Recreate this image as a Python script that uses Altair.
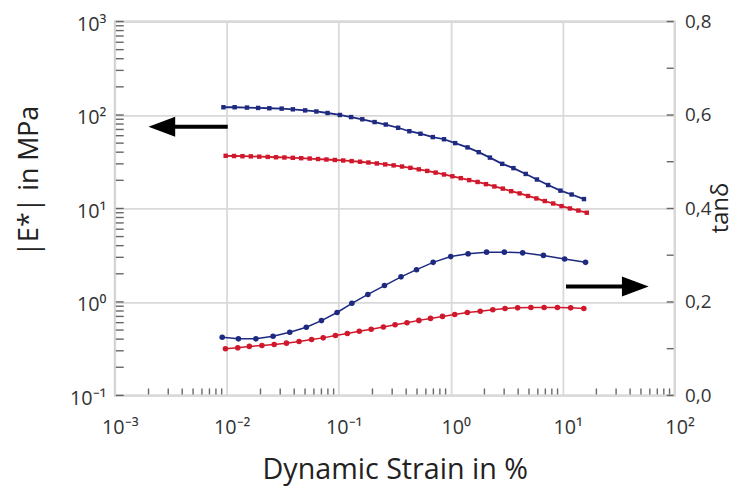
import altair as alt
import pandas as pd

# ---------------- data ----------------
# |E*| (left axis, MPa) - blue series
e_blue_x = [0.00933, 0.01175, 0.01514, 0.01905, 0.02399, 0.0309, 0.0389, 0.0501, 0.0631, 0.0794,
            0.1023, 0.1288, 0.1622, 0.2089, 0.263, 0.339, 0.427, 0.537, 0.692, 0.871,
            1.096, 1.413, 1.778, 2.239, 2.884, 3.631, 4.677, 5.888, 7.413, 9.55, 12.02, 15.49]
e_blue_y = [121, 121, 120, 119, 118, 117, 115, 112, 109, 105,
            100, 95, 90, 84, 79, 73, 67, 63, 58, 55,
            50, 45, 40, 35, 30, 27, 23.4, 20.4, 17.8, 15.5, 14.1, 12.6]

# |E*| - red series
e_red_x = [0.00977, 0.01161, 0.0138, 0.0164, 0.0195, 0.0232, 0.0275, 0.0327, 0.0389, 0.0462,
           0.0550, 0.0653, 0.0776, 0.0923, 0.1096, 0.1303, 0.1549, 0.1841, 0.2188, 0.2600,
           0.3090, 0.3673, 0.4365, 0.5188, 0.6166, 0.7328, 0.8710, 1.035, 1.230, 1.462,
           1.738, 2.065, 2.455, 2.917, 3.467, 4.121, 4.898, 5.821, 6.918, 8.222,
           9.772, 11.61, 13.80, 16.41]
e_red_y = [36.6, 36.4, 36.2, 36.1, 35.8, 35.6, 35.3, 35.1, 34.8, 34.5,
           34.2, 33.8, 33.4, 33.0, 32.6, 32.1, 31.6, 31.0, 30.3, 29.6,
           28.9, 28.1, 27.2, 26.2, 25.2, 24.2, 23.1, 22.1, 21.1, 20.1,
           19.2, 18.2, 17.2, 16.3, 15.3, 14.5, 13.6, 12.8, 12.0, 11.3,
           10.6, 10.0, 9.5, 9.0]

# tan delta (right axis) - blue series
tan_blue_x = [0.0091, 0.0127, 0.0182, 0.0259, 0.0365, 0.0513, 0.0701, 0.0966, 0.131, 0.182,
              0.256, 0.360, 0.495, 0.697, 1.0, 1.43, 2.09, 3.01, 4.39, 6.73, 10.4, 16.0]
tan_blue_y = [0.1245, 0.121, 0.121, 0.1266, 0.135, 0.1457, 0.160, 0.1774, 0.197, 0.216,
              0.235, 0.2536, 0.269, 0.2847, 0.297, 0.303, 0.3065, 0.3065, 0.305, 0.2995,
              0.292, 0.2847]

# tan delta - red series
tan_red_x = [0.00973, 0.01253, 0.01589, 0.0206, 0.0265, 0.0341, 0.0442, 0.0572, 0.0726, 0.0934,
             0.1193, 0.1525, 0.1948, 0.2506, 0.3184, 0.4068, 0.5196, 0.6600, 0.8440, 1.086,
             1.407, 1.834, 2.375, 3.055, 3.959, 5.200, 6.823, 8.971, 11.78, 15.45]
tan_red_y = [0.0998, 0.1019, 0.1048, 0.1069, 0.1090, 0.1118, 0.1153, 0.1196, 0.1231, 0.1280,
             0.1323, 0.1372, 0.1414, 0.1464, 0.1513, 0.1556, 0.1605, 0.1647, 0.1690, 0.1732,
             0.1774, 0.1802, 0.1831, 0.1859, 0.1873, 0.1880, 0.1880, 0.1880, 0.1873, 0.1859]

# axis ticks / labels
x_ticks = [0.001, 0.01, 0.1, 1, 10, 100]
x_labels = ["10⁻³", "10⁻²", "10⁻¹", "10⁰", "10¹", "10²"]
e_ticks = [0.1, 1, 10, 100, 1000]
e_labels = ["10⁻¹", "10⁰", "10¹", "10²", "10³"]
tan_ticks = [0.0, 0.2, 0.4, 0.6, 0.8]
tan_labels = ["0,0", "0,2", "0,4", "0,6", "0,8"]
tan_minor = [0.1, 0.3, 0.5, 0.7]
minor_mult = [2, 3, 4, 5, 6, 7, 8, 9]
x_decades = [0.001, 0.01, 0.1, 1, 10]
e_decades = [0.1, 1, 10, 100]

# arrows (data units)
arrow_left_x = [0.0102, 0.0032]
arrow_left_y = [75, 75]
arrow_left_head = [0.00263]
arrow_right_x = [10.7, 38.0]
arrow_right_y = [0.233, 0.233]
arrow_right_head = [44.5]

BLUE = "#1d2a80"
RED = "#d0182c"
FONT = "Open Sans"
W, H = 566, 378


def lab_expr(vals, labs):
    expr = "''"
    for v, l in reversed(list(zip(vals, labs))):
        expr = f"abs(datum.value - {v}) < {abs(v) * 1e-6 + 1e-9} ? '{l}' : {expr}"
    return expr


X = alt.X(
    "x:Q",
    scale=alt.Scale(type="log", domain=[0.001, 100]),
    axis=alt.Axis(
        values=x_ticks, labelExpr=lab_expr(x_ticks, x_labels), title="Dynamic Strain in %",
        grid=True, gridColor="#d9d9d9", gridWidth=1.8, ticks=False, tickSize=0, domain=False,
        labelFont=FONT, labelFontSize=20, labelColor="#333", labelPadding=23, labelBaseline="top",
        labelOffset=5, labelFlush=False,
        titleFont=FONT, titleFontSize=29, titleFontWeight="normal", titleColor="#222",
        titleBaseline="alphabetic", titleY=84,
    ),
)
Y_E = alt.Y(
    "y:Q",
    scale=alt.Scale(type="log", domain=[0.1, 1000]),
    axis=alt.Axis(
        orient="left", values=e_ticks, labelExpr=lab_expr(e_ticks, e_labels), title="|E*| in MPa",
        grid=True, gridColor="#d9d9d9", gridWidth=1.8, ticks=False, tickSize=0, domain=False,
        labelFont=FONT, labelFontSize=20, labelColor="#333", labelPadding=9, labelOffset=3,
        labelFlush=False,
        titleFont=FONT, titleFontSize=27, titleFontWeight="normal", titleColor="#222",
        titleX=-86, titleY=161, titleAngle=-90, titleAlign="center", titleBaseline="middle",
    ),
)
Y_T = alt.Y(
    "t:Q",
    scale=alt.Scale(type="linear", domain=[0, 0.8]),
    axis=alt.Axis(
        orient="right", values=tan_ticks, labelExpr=lab_expr(tan_ticks, tan_labels), title="tanδ",
        grid=False, ticks=False, tickSize=0, domain=False,
        labelFont=FONT, labelFontSize=19, labelColor="#333", labelPadding=10, labelFlush=False,
        titleFont=FONT, titleFontSize=24, titleFontWeight="normal", titleColor="#222",
        titleX=53, titleY=188, titleAngle=-90, titleAlign="center", titleBaseline="alphabetic",
    ),
)

df_eb = pd.DataFrame({"x": e_blue_x, "y": e_blue_y})
df_er = pd.DataFrame({"x": e_red_x, "y": e_red_y})
df_tb = pd.DataFrame({"x": tan_blue_x, "t": tan_blue_y})
df_tr = pd.DataFrame({"x": tan_red_x, "t": tan_red_y})

e_minor = [m * d for d in e_decades for m in minor_mult] + e_ticks
x_minor = [m * d for d in x_decades for m in minor_mult]
df_left_ticks = pd.DataFrame({"y": e_minor})
df_bottom_ticks = pd.DataFrame({"x": x_minor})
df_right_ticks = pd.DataFrame({"t": tan_minor + tan_ticks})

left_layers = [
    alt.Chart(df_left_ticks).mark_rule(color="#666", strokeWidth=1.4).encode(
        y=Y_E, x=alt.value(1), x2=alt.value(9)),
    alt.Chart(df_bottom_ticks).mark_rule(color="#666", strokeWidth=1.4).encode(
        x=X, y=alt.value(H - 7), y2=alt.value(H - 1)),
    alt.Chart(df_eb).mark_line(color=BLUE, strokeWidth=1.8).encode(x=X, y=Y_E),
    alt.Chart(df_eb).mark_point(color=BLUE, filled=True, opacity=1, size=20, shape="square").encode(x=X, y=Y_E),
    alt.Chart(df_er).mark_line(color=RED, strokeWidth=1.8).encode(x=X, y=Y_E),
    alt.Chart(df_er).mark_point(color=RED, filled=True, opacity=1, size=20, shape="square").encode(x=X, y=Y_E),
    alt.Chart(pd.DataFrame({"x": arrow_left_x, "y": arrow_left_y})).mark_line(
        color="black", strokeWidth=4).encode(x=X, y=Y_E),
    alt.Chart(pd.DataFrame({"x": arrow_left_head, "y": arrow_left_y[:1]})).mark_point(
        shape="M-1,0L1,-0.75L1,0.75Z", size=729, filled=True, opacity=1, color="black").encode(x=X, y=Y_E),
]

right_layers = [
    alt.Chart(df_right_ticks).mark_rule(color="#666", strokeWidth=1.4).encode(
        y=Y_T, x=alt.value(W - 8), x2=alt.value(W - 1)),
    alt.Chart(df_tb).mark_line(color=BLUE, strokeWidth=1.5).encode(x=X, y=Y_T),
    alt.Chart(df_tb).mark_point(color=BLUE, filled=True, opacity=1, size=32, shape="circle").encode(x=X, y=Y_T),
    alt.Chart(df_tr).mark_line(color=RED, strokeWidth=1.5).encode(x=X, y=Y_T),
    alt.Chart(df_tr).mark_point(color=RED, filled=True, opacity=1, size=32, shape="circle").encode(x=X, y=Y_T),
    alt.Chart(pd.DataFrame({"x": arrow_right_x, "t": arrow_right_y})).mark_line(
        color="black", strokeWidth=4).encode(x=X, y=Y_T),
    alt.Chart(pd.DataFrame({"x": arrow_right_head, "t": arrow_right_y[:1]})).mark_point(
        shape="M1,0L-1,-0.75L-1,0.75Z", size=729, filled=True, opacity=1, color="black").encode(x=X, y=Y_T),
]

chart = alt.layer(
    alt.layer(*left_layers),
    alt.layer(*right_layers),
).resolve_scale(y="independent").properties(
    width=W, height=H,
    autosize=alt.AutoSizeParams(type="none"),
    padding={"left": 108, "top": 11, "right": 60, "bottom": 94},
    background="white",
).configure_view(stroke="#c8c8c8", strokeWidth=2)

chart.save("out.html", embed_options={"renderer": "svg", "actions": False})
